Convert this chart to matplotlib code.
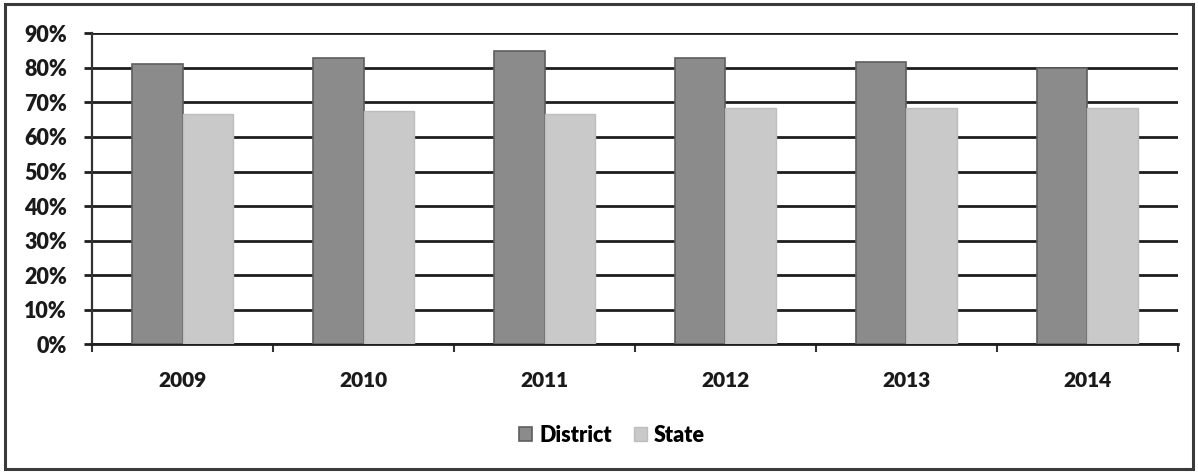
import numpy as np
import matplotlib
matplotlib.use("Agg")
import matplotlib.pyplot as plt
from matplotlib.patches import Rectangle
from matplotlib.ticker import PercentFormatter


years = ["2009", "2010", "2011", "2012", "2013", "2014"]
district = [81.0, 82.8, 84.9, 82.8, 81.8, 79.9]
state = [66.6, 67.6, 66.6, 68.5, 68.5, 68.3]
y_ticks = [0, 10, 20, 30, 40, 50, 60, 70, 80, 90]

DISTRICT_COLOR = "#8b8b8b"
STATE_COLOR = "#c9c9c9"
TEXT_WEIGHT = "heavy"


def plot_chart():
    plt.rcParams["font.family"] = ["Lato", "DejaVu Sans"]
    fig = plt.figure(figsize=(11.98, 4.72), dpi=100)
    ax = fig.add_axes([0.0768, 0.2706, 0.9065, 0.6588])

    x = np.arange(len(years)) + 0.5
    width = 0.277
    ax.bar(x - width / 2, district, width, color=DISTRICT_COLOR,
           edgecolor="#5e5e5e", linewidth=1.2, label="District", zorder=3)
    ax.bar(x + width / 2, state, width, color=STATE_COLOR,
           edgecolor="#bdbdbd", linewidth=1.0, label="State", zorder=3)

    ax.set_xlim(0, len(years))
    ax.set_ylim(0, 90)
    ax.set_yticks(y_ticks)
    ax.yaxis.set_major_formatter(PercentFormatter(decimals=0))
    ax.yaxis.grid(True, color="#1e1e1e", linewidth=2.0, zorder=1)
    ax.set_axisbelow(True)

    # category labels sit between the boundary tick marks
    ax.set_xticks(np.arange(len(years) + 1))
    ax.set_xticklabels([])
    ax.set_xticks(x, minor=True)
    ax.set_xticklabels(years, minor=True, fontsize=15, fontweight=TEXT_WEIGHT,
                       color="#1a1a1a")
    ax.tick_params(axis="x", which="major", length=6, width=1.5,
                   color="#333333")
    ax.tick_params(axis="x", which="minor", length=0, pad=19)
    ax.tick_params(axis="y", length=6, width=2, color="#1e1e1e", pad=12,
                   labelsize=15.5, labelcolor="#1a1a1a")
    for lbl in ax.get_yticklabels():
        lbl.set_fontweight(TEXT_WEIGHT)

    for side in ["top", "right"]:
        ax.spines[side].set_visible(False)
    ax.spines["left"].set_linewidth(1.6)
    ax.spines["left"].set_color("#333333")
    ax.spines["bottom"].set_linewidth(2.0)
    ax.spines["bottom"].set_color("#1e1e1e")

    fig.legend(loc="center", bbox_to_anchor=(0.511, 0.078), ncol=2,
               frameon=False, prop={"size": 15.5, "weight": TEXT_WEIGHT},
               handlelength=0.6, handleheight=0.6, handletextpad=0.35,
               columnspacing=1.0)

    # outer chart frame
    fig.patches.append(Rectangle((0.004, 0.007), 0.992, 0.985,
                                 transform=fig.transFigure, fill=False,
                                 edgecolor="#3a3a3a", linewidth=2.2))

    fig.savefig("out.png", dpi=100, facecolor="white")


if __name__ == "__main__":
    plot_chart()
